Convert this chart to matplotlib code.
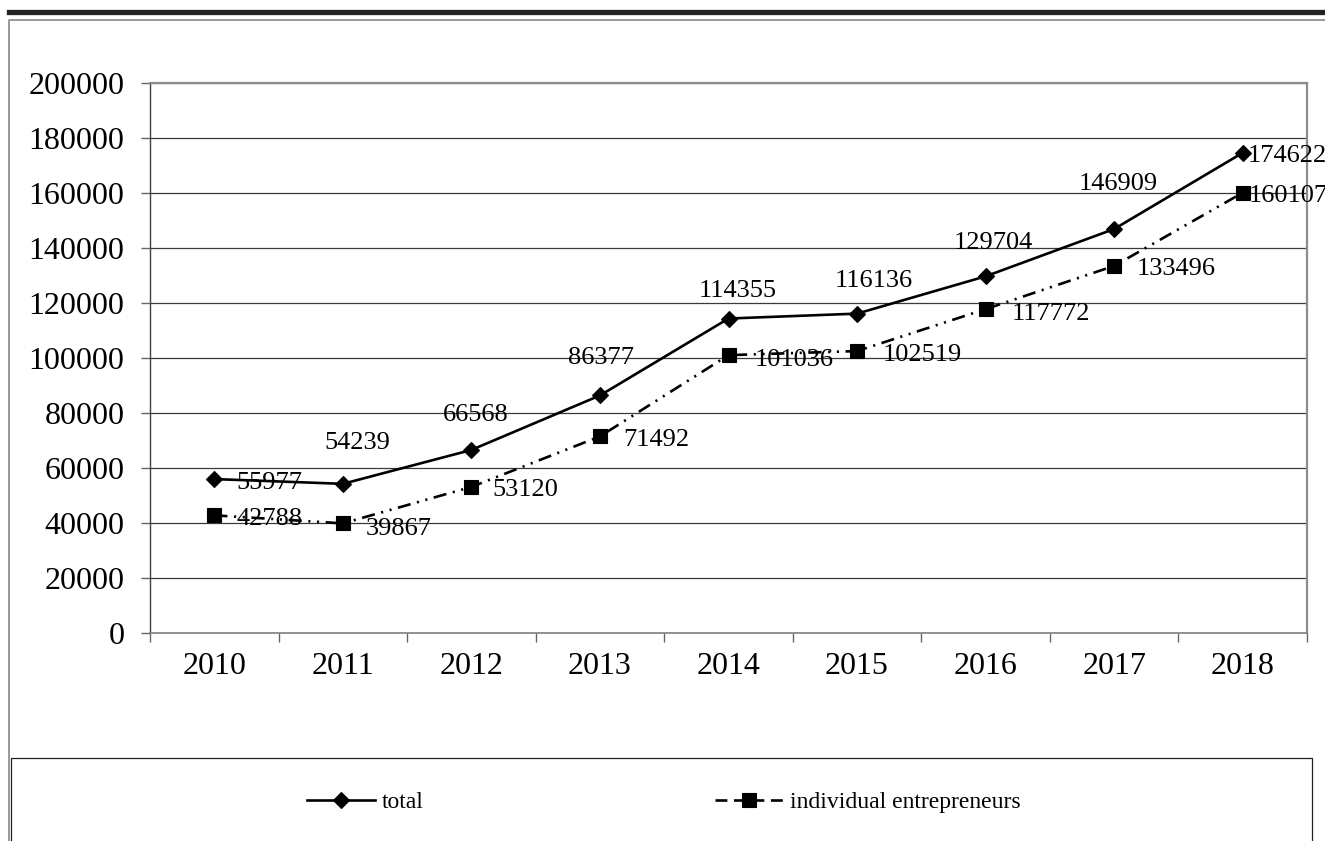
import matplotlib
matplotlib.use("Agg")
import matplotlib.pyplot as plt
import numpy as np

plt.rcParams["font.family"] = ["Liberation Serif", "DejaVu Serif"]

years = ["2010", "2011", "2012", "2013", "2014", "2015", "2016", "2017", "2018"]
total = [55977, 54239, 66568, 86377, 114355, 116136, 129704, 146909, 174622]
individual = [42788, 39867, 53120, 71492, 101036, 102519, 117772, 133496, 160107]

# label placement in pixels (dx, dy, ha), hand-dragged in the original
total_offsets = [(22, -1, "left"), (14, 43, "center"), (4, 37, "center"),
                 (1, 40, "center"), (9, 30, "center"), (17, 35, "center"),
                 (8, 36, "center"), (4, 48, "center"), (5, -1, "left")]
indiv_offsets = [(22, -1), (23, -3), (21, -1), (23, -1), (26, -2),
                 (26, -1), (26, -2), (23, -1), (6, -1)]

W, H = 1325, 841
fig = plt.figure(figsize=(W / 100, H / 100), dpi=100)
ax = fig.add_axes([150 / W, 1 - 633 / H, (1307 - 150) / W, (633 - 83) / H])

x = np.arange(len(years))
ax.grid(axis="y", color="#3a3a3a", lw=0.9, zorder=0)
ax.set_axisbelow(True)

l_total, = ax.plot(x, total, color="black", lw=1.9, marker="D", ms=8.2,
                   mew=0.8, mfc="black", mec="black", label="total", zorder=3)
l_ind, = ax.plot(x, individual, color="black", lw=1.9, marker="s", ms=10.5,
                 mew=0.8, mfc="black", mec="black",
                 dashes=[5, 2.5, 0.8, 2.5, 0.8, 2.5],
                 label="individual entrepreneurs", zorder=3)

for i, v in enumerate(total):
    dx, dy, ha = total_offsets[i]
    ax.annotate(str(v), (x[i], v), xytext=(dx, dy), textcoords="offset pixels",
                ha=ha, va="center_baseline", fontsize=19, zorder=4)
for i, v in enumerate(individual):
    dx, dy = indiv_offsets[i]
    ax.annotate(str(v), (x[i], v), xytext=(dx, dy), textcoords="offset pixels",
                ha="left", va="center_baseline", fontsize=19, zorder=4)

ax.set_xlim(-0.5, len(years) - 0.5)
ax.set_ylim(0, 200000)
ax.set_yticks(np.arange(0, 200001, 20000))
ax.set_yticklabels([str(v) for v in range(0, 200001, 20000)], fontsize=23)
ax.set_xticks(np.arange(-0.5, len(years), 1.0))
ax.set_xticklabels([])
ax.set_xticks(x, minor=True)
ax.set_xticklabels(years, minor=True, fontsize=23)
ax.tick_params(axis="x", which="major", direction="out", length=6.5,
               color="#666666", width=1)
ax.tick_params(axis="x", which="minor", length=0, pad=14)
ax.tick_params(axis="y", direction="out", length=6.5, color="#666666",
               width=1, pad=12)

ax.spines["left"].set_color("#404040")
ax.spines["left"].set_linewidth(1.0)
ax.spines["bottom"].set_color("#808080")
ax.spines["bottom"].set_linewidth(1.2)
for s in ("top", "right"):
    ax.spines[s].set_color("#8c8c8c")
    ax.spines[s].set_linewidth(1.6)


def fx(px):
    return px / W


def fy(py):
    return 1 - py / H


# page decorations: thick rule on top, chart border, legend box
fig.add_artist(plt.Line2D([fx(9), 1], [fy(11.5), fy(11.5)], color="#222222",
                          lw=3.8, transform=fig.transFigure))
fig.add_artist(plt.Line2D([1, fx(9), fx(9)], [fy(19.5), fy(19.5), 0],
                          color="#888888", lw=1.2, transform=fig.transFigure))
fig.add_artist(plt.Line2D([fx(11), fx(11), fx(1312), fx(1312)],
                          [0, fy(758), fy(758), 0], color="#222222", lw=0.9,
                          transform=fig.transFigure))

# legend key for the second series is drawn as plain dashes, like the original
ind_key = plt.Line2D([], [], color="black", lw=1.9, marker="s", ms=10.5,
                     mew=0.8, mfc="black", mec="black", dashes=[4.5, 2.5])
fig.legend(handles=[l_total, ind_key],
           labels=[l_total.get_label(), l_ind.get_label()], loc="center",
           bbox_to_anchor=(0.5009, fy(802)), ncol=2, frameon=False,
           fontsize=17, handlelength=2.9, handletextpad=0.3,
           columnspacing=12.3)

fig.savefig("out.png", dpi=100)
